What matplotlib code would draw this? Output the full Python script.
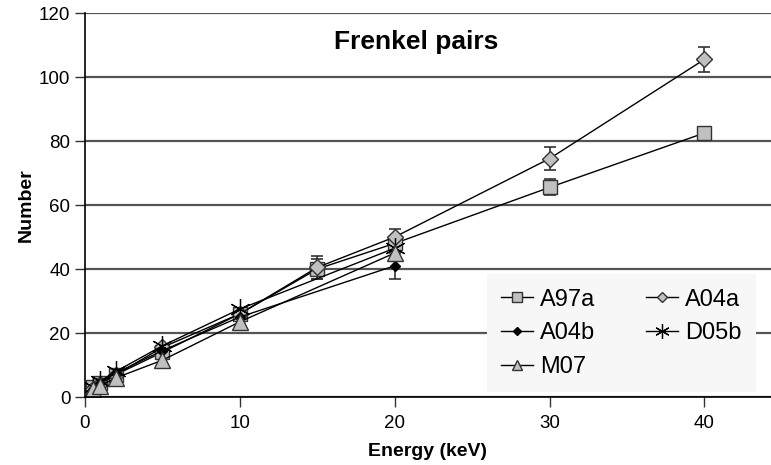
import matplotlib.pyplot as plt

plt.rcParams["font.family"] = ["Liberation Sans", "DejaVu Sans"]

# energies (keV)
e_full = [0.5, 1, 2, 5, 10, 15, 20, 30, 40]
e_short = [0.5, 1, 2, 5, 10, 20]

a97a = [3, 4.5, 7, 14, 26, 40, 48, 65.5, 82.5]
a97a_err = [0, 0, 0, 0, 0, 3, 2, 2.5, 2]
a04a = [2.5, 4, 7, 15.5, 26, 40.5, 50, 74.5, 105.5]
a04a_err = [0, 0, 0, 0, 0, 3.5, 2.5, 3.5, 4]
a04b = [2.5, 4.5, 7.5, 14.5, 25, 41]
a04b_err = [0, 0, 0, 0, 0, 4]
d05b = [3, 5, 8, 16, 27.5, 46.5]
m07 = [2.5, 3.5, 6, 11.5, 23.5, 45]

fig = plt.figure(figsize=(7.71, 4.65), dpi=100)
ax = fig.add_axes([85 / 771, 1 - 397 / 465, 1 - 85 / 771, 384 / 465])

gray = "#c0c0c0"
edge = "#333333"


def err_only(x, y, e):
    # draw error bars only where there is one
    pts = [(a, b, c) for a, b, c in zip(x, y, e) if c > 0]
    ax.errorbar([p[0] for p in pts], [p[1] for p in pts], yerr=[p[2] for p in pts],
                fmt="none", ecolor="#333333", elinewidth=1.2, capsize=4, capthick=1.2, zorder=2)


err_only(e_full, a97a, a97a_err)
err_only(e_full, a04a, a04a_err)
err_only(e_short, a04b, a04b_err)

h1, = ax.plot(e_full, a97a, color="black", lw=1, marker="s", ms=10, mfc=gray, mec=edge, label="A97a")
h2, = ax.plot(e_full, a04a, color="black", lw=1, marker="D", ms=8, mfc=gray, mec=edge, label="A04a")
h3, = ax.plot(e_short, a04b, color="black", lw=1, marker="D", ms=5.5, mfc="black", mec="black", label="A04b")
h4, = ax.plot(e_short, d05b, color="black", lw=1, marker=(6, 2, 0), ms=15, mew=0.9, label="D05b")
h5, = ax.plot(e_short, m07, color="black", lw=1, marker="^", ms=11, mfc=gray, mec=edge, label="M07")

ax.set_xlim(0, 44.3)
ax.set_ylim(0, 120)
ax.set_xticks([0, 10, 20, 30, 40])
ax.set_yticks(range(0, 121, 20))
ax.yaxis.grid(True, color="#555555", lw=1.6)
ax.set_axisbelow(True)
for s in ["top", "right"]:
    ax.spines[s].set_visible(False)
ax.spines["left"].set_linewidth(1.2)
ax.spines["bottom"].set_linewidth(1.2)
ax.tick_params(direction="out", length=7, width=1, labelsize=13.5, color="#333333")
ax.tick_params(axis="x", pad=6)

ax.set_xlabel("Energy (keV)", fontsize=14, fontweight="bold", labelpad=8)
ax.set_ylabel("Number", fontsize=14, fontweight="bold", labelpad=3)
ax.text(0.483, 0.925, "Frenkel pairs", transform=ax.transAxes, ha="center", va="center",
        fontsize=19, fontweight="bold")

leg = ax.legend([h1, h3, h5, h2, h4], ["A97a", "A04b", "M07", "A04a", "D05b"], ncol=2,
                loc="lower right", bbox_to_anchor=(0.978, 0.012), fontsize=17, frameon=True,
                fancybox=False, handlelength=1.35, columnspacing=2.15, borderpad=0.6,
                labelspacing=0.5, handletextpad=0.3, markerscale=0.7, borderaxespad=0)
leg.get_frame().set_facecolor("#f7f7f7")
leg.get_frame().set_edgecolor("none")
leg.get_frame().set_alpha(1)

fig.savefig("out.png", dpi=100)
